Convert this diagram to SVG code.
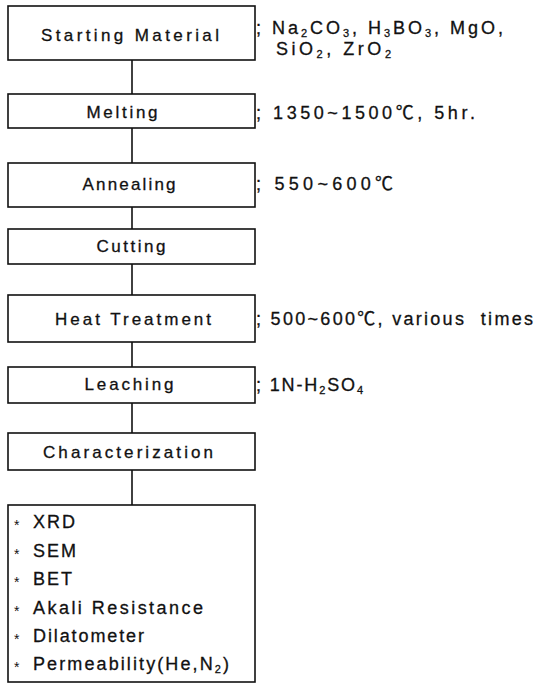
<svg xmlns="http://www.w3.org/2000/svg" width="535" height="683" viewBox="0 0 535 683">
<style>
  .box { fill: #fff; stroke: #111; stroke-width: 1.6; }
  .lbl { font-family: "Liberation Sans", "Noto Sans CJK SC", sans-serif; font-size: 17px; fill: #111; stroke: #111; stroke-width: 0.3; text-anchor: middle; }
  .note { font-family: "Liberation Sans", "Noto Sans CJK SC", sans-serif; font-size: 18px; fill: #111; stroke: #111; stroke-width: 0.3; }
  .item { font-family: "Liberation Sans", sans-serif; font-size: 18px; fill: #111; stroke: #111; stroke-width: 0.3; }
  .bul { font-family: "Liberation Sans", sans-serif; font-size: 14px; fill: #111; }
  .sub { font-size: 11px; }
  .conn { stroke: #111; stroke-width: 1.6; fill: none; }
</style>
<rect width="535" height="683" fill="#fff"/>
<g id="connectors">
  <line class="conn" x1="132" y1="60" x2="132" y2="94"/>
  <line class="conn" x1="132" y1="128" x2="132" y2="163"/>
  <line class="conn" x1="132" y1="207" x2="132" y2="229"/>
  <line class="conn" x1="132" y1="264" x2="132" y2="295"/>
  <line class="conn" x1="132" y1="342" x2="132" y2="367"/>
  <line class="conn" x1="132" y1="403" x2="132" y2="433"/>
  <line class="conn" x1="132" y1="470" x2="132" y2="505"/>
</g>
<g id="starting-material">
  <rect class="box" x="8" y="6" width="247" height="54"/>
  <text class="lbl" x="130" y="41" textLength="178" lengthAdjust="spacing">Starting Material</text>
  <text class="note" x="256" y="34" textLength="247" lengthAdjust="spacing">; Na<tspan class="sub" dy="3">2</tspan><tspan dy="-3">CO</tspan><tspan class="sub" dy="3">3</tspan><tspan dy="-3">, H</tspan><tspan class="sub" dy="3">3</tspan><tspan dy="-3">BO</tspan><tspan class="sub" dy="3">3</tspan><tspan dy="-3">, MgO,</tspan></text>
  <text class="note" x="276" y="55" textLength="115" lengthAdjust="spacing">SiO<tspan class="sub" dy="3">2</tspan><tspan dy="-3">, ZrO</tspan><tspan class="sub" dy="3">2</tspan></text>
</g>
<g id="melting">
  <rect class="box" x="8" y="94" width="247" height="34"/>
  <text class="lbl" x="122" y="118" textLength="71" lengthAdjust="spacing">Melting</text>
  <text class="note" x="256" y="119" textLength="219" lengthAdjust="spacing">; 1350~1500℃, 5hr.</text>
</g>
<g id="annealing">
  <rect class="box" x="8" y="163" width="247" height="44"/>
  <text class="lbl" x="129" y="190" textLength="93" lengthAdjust="spacing">Annealing</text>
  <text class="note" x="256" y="190" textLength="137" lengthAdjust="spacing">; 550~600℃</text>
</g>
<g id="cutting">
  <rect class="box" x="8" y="229" width="247" height="35"/>
  <text class="lbl" x="131" y="252" textLength="69" lengthAdjust="spacing">Cutting</text>
</g>
<g id="heat-treatment">
  <rect class="box" x="8" y="295" width="247" height="47"/>
  <text class="lbl" x="133" y="325" textLength="156" lengthAdjust="spacing">Heat Treatment</text>
  <text class="note" x="256" y="325" textLength="277" lengthAdjust="spacing">; 500~600℃, various&#160; times</text>
</g>
<g id="leaching">
  <rect class="box" x="8" y="367" width="247" height="36"/>
  <text class="lbl" x="129" y="390" textLength="89" lengthAdjust="spacing">Leaching</text>
  <text class="note" x="256" y="391" textLength="107" lengthAdjust="spacing">; 1N-H<tspan class="sub" dy="3">2</tspan><tspan dy="-3">SO</tspan><tspan class="sub" dy="3">4</tspan></text>
</g>
<g id="characterization">
  <rect class="box" x="8" y="433" width="247" height="37"/>
  <text class="lbl" x="128" y="458" textLength="170" lengthAdjust="spacing">Characterization</text>
</g>
<g id="methods">
  <rect class="box" x="8" y="505" width="247" height="177"/>
  <g class="bul">
    <text x="14" y="530">*</text>
    <text x="14" y="559">*</text>
    <text x="14" y="587">*</text>
    <text x="14" y="616">*</text>
    <text x="14" y="644">*</text>
    <text x="14" y="672">*</text>
  </g>
  <text class="item" x="33" y="528" textLength="42" lengthAdjust="spacing">XRD</text>
  <text class="item" x="33" y="557" textLength="43" lengthAdjust="spacing">SEM</text>
  <text class="item" x="33" y="585" textLength="39" lengthAdjust="spacing">BET</text>
  <text class="item" x="33" y="614" textLength="170" lengthAdjust="spacing">Akali Resistance</text>
  <text class="item" x="33" y="642" textLength="111" lengthAdjust="spacing">Dilatometer</text>
  <text class="item" x="33" y="670" textLength="196" lengthAdjust="spacing">Permeability(He,N<tspan class="sub" dy="3">2</tspan><tspan dy="-3">)</tspan></text>
</g>
</svg>
